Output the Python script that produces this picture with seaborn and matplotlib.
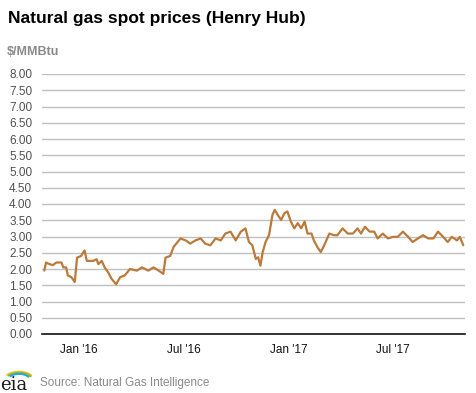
import matplotlib
matplotlib.use("Agg")
import matplotlib.pyplot as plt
from matplotlib.patches import Arc
import seaborn as sns
import pandas as pd

dates = [
    "2015-11-02", "2015-11-05", "2015-11-11", "2015-11-17", "2015-11-23", "2015-12-02",
    "2015-12-05", "2015-12-10", "2015-12-13", "2015-12-19", "2015-12-25", "2015-12-29",
    "2016-01-05", "2016-01-11", "2016-01-15", "2016-01-26", "2016-02-01", "2016-02-04",
    "2016-02-10", "2016-02-15", "2016-02-21", "2016-02-27", "2016-03-06", "2016-03-13",
    "2016-03-21", "2016-03-30", "2016-04-11", "2016-04-20", "2016-05-01", "2016-05-10",
    "2016-05-19", "2016-05-27", "2016-05-31", "2016-06-08", "2016-06-14", "2016-06-26",
    "2016-07-05", "2016-07-13", "2016-07-22", "2016-07-31", "2016-08-08", "2016-08-17",
    "2016-08-26", "2016-09-04", "2016-09-12", "2016-09-21", "2016-09-30", "2016-10-09",
    "2016-10-17", "2016-10-23", "2016-10-29", "2016-11-04", "2016-11-08", "2016-11-12",
    "2016-11-16", "2016-11-21", "2016-11-27", "2016-12-03", "2016-12-07", "2016-12-12",
    "2016-12-18", "2016-12-24", "2016-12-29", "2017-01-04", "2017-01-10", "2017-01-16",
    "2017-01-22", "2017-01-28", "2017-02-02", "2017-02-09", "2017-02-13", "2017-02-19",
    "2017-02-25", "2017-03-03", "2017-03-12", "2017-03-20", "2017-03-26", "2017-04-04",
    "2017-04-13", "2017-04-22", "2017-04-30", "2017-05-06", "2017-05-13", "2017-05-21",
    "2017-05-29", "2017-06-04", "2017-06-13", "2017-06-22", "2017-07-01", "2017-07-09",
    "2017-07-18", "2017-07-27", "2017-08-04", "2017-08-13", "2017-08-22", "2017-08-31",
    "2017-09-09", "2017-09-17", "2017-09-26", "2017-10-04", "2017-10-11", "2017-10-20",
    "2017-10-25", "2017-10-31",
]
prices = [
    1.95, 2.20, 2.15, 2.12, 2.20, 2.20,
    2.05, 2.05, 1.80, 1.75, 1.60, 2.35,
    2.40, 2.57, 2.25, 2.25, 2.30, 2.15,
    2.25, 2.05, 1.90, 1.70, 1.53, 1.75,
    1.80, 2.00, 1.95, 2.05, 1.95, 2.05,
    1.95, 1.85, 2.35, 2.40, 2.68, 2.94,
    2.88, 2.78, 2.88, 2.94, 2.78, 2.73,
    2.94, 2.88, 3.09, 3.15, 2.88, 3.15,
    3.25, 2.83, 2.73, 2.31, 2.36, 2.10,
    2.52, 2.83, 3.04, 3.67, 3.82, 3.67,
    3.51, 3.72, 3.77, 3.46, 3.25, 3.41,
    3.25, 3.46, 3.09, 3.09, 2.88, 2.68,
    2.52, 2.73, 3.09, 3.04, 3.04, 3.25,
    3.09, 3.09, 3.25, 3.09, 3.30, 3.15,
    3.15, 2.94, 3.09, 2.94, 2.99, 2.99,
    3.15, 2.99, 2.83, 2.94, 3.04, 2.94,
    2.94, 3.15, 2.99, 2.83, 2.99, 2.88,
    2.99, 2.73,
]
y_ticks = [0, 0.5, 1, 1.5, 2, 2.5, 3, 3.5, 4, 4.5, 5, 5.5, 6, 6.5, 7, 7.5, 8]
x_ticks = ["2016-01-01", "2016-07-01", "2017-01-01", "2017-07-01"]
x_labels = ["Jan '16", "Jul '16", "Jan '17", "Jul '17"]

df = pd.DataFrame({"date": pd.to_datetime(dates), "price": prices})

sns.set_style("white")
plt.rcParams["font.family"] = ["Liberation Sans", "DejaVu Sans"]

fig = plt.figure(figsize=(4.77, 3.93), dpi=100)
ax = fig.add_axes([42 / 477, 59 / 393, 423 / 477, 260 / 393])

sns.lineplot(data=df, x="date", y="price", ax=ax, color="#bb7a3a", linewidth=1.6)

ax.set_ylim(0, 8)
ax.set_yticks(y_ticks)
ax.set_yticklabels([f"{v:.2f}" for v in y_ticks], color="#505050", fontsize=8.5)
ax.set_xlim(pd.Timestamp("2015-10-29"), pd.Timestamp("2017-11-03"))
ax.set_xticks(pd.to_datetime(x_ticks))
ax.set_xticklabels(x_labels, fontsize=8.5, color="#111111")
ax.tick_params(axis="y", length=0, pad=7)
ax.tick_params(axis="x", length=4, width=0.8, color="#333333", pad=3)
ax.grid(axis="y", color="#c0c0c0", linewidth=1)
ax.set_axisbelow(True)
for s in ["top", "right", "left"]:
    ax.spines[s].set_visible(False)
ax.spines["bottom"].set_color("#111111")
ax.spines["bottom"].set_linewidth(1.2)
ax.set_xlabel("")
ax.set_ylabel("")

fig.text(8 / 477, 1 - 18 / 393, "Natural gas spot prices (Henry Hub)", fontsize=12.5,
         fontweight="bold", va="center", ha="left", color="#000000")
fig.text(7 / 477, 1 - 52 / 393, "$/MMBtu", fontsize=9, fontweight="bold",
         va="center", ha="left", color="#8a8a8a")
fig.text(40 / 477, 1 - 383 / 393, "Source: Natural Gas Intelligence", fontsize=8.5,
         va="center", ha="left", color="#8a8a8a")

# eia logo
fig.text(0 / 477, 1 - 385 / 393, "eia", fontsize=13, family="DejaVu Serif",
         va="center", ha="left", color="#1a1a1a")
lax = fig.add_axes([0, 13 / 393, 32 / 477, 20 / 393])
lax.set_xlim(0, 32)
lax.set_ylim(0, 20)
lax.axis("off")
for r, c in [(15, "#f2c21b"), (13, "#7dbb42"), (11, "#2aa6d9")]:
    lax.add_patch(Arc((19, 0), r * 2, r * 1.1, theta1=15, theta2=160, color=c, lw=1.4))

fig.savefig("out.png", dpi=100)
